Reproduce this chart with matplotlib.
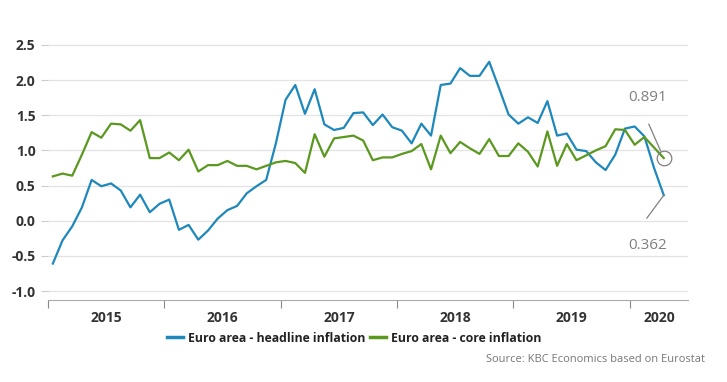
import numpy as np
import matplotlib.pyplot as plt

plt.rcParams['font.family'] = ['Open Sans', 'DejaVu Sans']

# monthly data, Jan 2015 - Apr 2020
headline = [-0.61, -0.28, -0.08, 0.19, 0.58, 0.49, 0.53, 0.43, 0.19, 0.37, 0.12, 0.24,
            0.30, -0.13, -0.06, -0.27, -0.14, 0.03, 0.15, 0.21, 0.39, 0.49, 0.58, 1.10,
            1.72, 1.93, 1.52, 1.87, 1.37, 1.29, 1.32, 1.53, 1.54, 1.36, 1.51, 1.33,
            1.28, 1.10, 1.38, 1.21, 1.93, 1.95, 2.17, 2.06, 2.06, 2.26, 1.89, 1.51,
            1.38, 1.47, 1.39, 1.70, 1.21, 1.24, 1.01, 0.99, 0.83, 0.72, 0.94, 1.31,
            1.34, 1.20, 0.75, 0.362]
core = [0.63, 0.67, 0.64, 0.94, 1.26, 1.18, 1.38, 1.37, 1.28, 1.43, 0.89, 0.89,
        0.97, 0.86, 1.01, 0.70, 0.79, 0.79, 0.85, 0.78, 0.78, 0.73, 0.78, 0.83,
        0.85, 0.82, 0.68, 1.23, 0.91, 1.17, 1.19, 1.21, 1.14, 0.86, 0.90, 0.90,
        0.95, 0.99, 1.09, 0.73, 1.21, 0.96, 1.12, 1.03, 0.95, 1.16, 0.92, 0.92,
        1.10, 0.98, 0.77, 1.27, 0.78, 1.09, 0.86, 0.93, 1.00, 1.06, 1.30, 1.29,
        1.08, 1.19, 1.04, 0.891]
years = ["2015", "2016", "2017", "2018", "2019", "2020"]
yticks = [-1.0, -0.5, 0.0, 0.5, 1.0, 1.5, 2.0, 2.5]

blue = "#1f88bb"
green = "#5b981f"
dark = "#333333"

x = np.arange(len(headline)) + 0.5

fig = plt.figure(figsize=(7.27, 3.82), dpi=100)
ax = fig.add_axes([48/727, 1-300/382, 640/727, 258.6/382])

ax.plot(x, headline, color=blue, lw=1.6, label="Euro area - headline inflation")
ax.plot(x, core, color=green, lw=1.6, label="Euro area - core inflation")

ax.set_xlim(0, 66)
ax.set_ylim(-1.128, 2.55)
ax.set_yticks(yticks)
ax.set_yticklabels(["%.1f" % v for v in yticks], fontweight="bold", color=dark, fontsize=10)
ax.grid(axis="y", color="#e3e3e3", lw=0.9)
ax.tick_params(axis="y", length=5, color="#cccccc", pad=4)

ax.set_xticks(np.arange(0, 61, 12))
ax.set_xticklabels([])
ax.set_xticks([6, 18, 30, 42, 54, 63], minor=True)
ax.set_xticklabels(years, minor=True, fontweight="bold", color=dark, fontsize=10)
ax.tick_params(axis="x", which="major", length=6, color="#888888", direction="out")
ax.tick_params(axis="x", which="minor", length=0, pad=8)

for s in ["top", "right", "left"]:
    ax.spines[s].set_visible(False)
ax.spines["bottom"].set_color("#aaaaaa")

# end-point annotations
gray = "#808080"
xe = x[-1]
ax.plot(xe, core[-1], "o", ms=10.5, mfc="none", mec=gray, mew=0.9)
ax.annotate("", xy=(xe, core[-1]), xytext=(-15, 34), textcoords="offset pixels",
            arrowprops=dict(arrowstyle="-", color=gray, lw=0.9, shrinkA=0, shrinkB=5.5))
ax.annotate("", xy=(xe, headline[-1]), xytext=(-17, -23), textcoords="offset pixels",
            arrowprops=dict(arrowstyle="-", color=gray, lw=0.9, shrinkA=0, shrinkB=0))
ax.annotate("0.891", xy=(xe, core[-1]), xytext=(-16, 61), textcoords="offset pixels",
            ha="center", va="center", fontsize=11, color=gray)
ax.annotate("0.362", xy=(xe, headline[-1]), xytext=(-16, -50), textcoords="offset pixels",
            ha="center", va="center", fontsize=11, color=gray)

leg = fig.legend(loc="center", bbox_to_anchor=(354/727, 1-338/382), ncol=2, frameon=False,
                 handlelength=1.3, handletextpad=0.4, columnspacing=0.4,
                 prop={"weight": "bold", "size": 8.8})
for t in leg.get_texts():
    t.set_color("#222222")
for h in leg.get_lines():
    h.set_linewidth(2.5)

fig.text(705/727, 1-360/382, "Source: KBC Economics based on Eurostat", ha="right", va="center",
         fontsize=8, color="#777777")

fig.savefig("out.png", dpi=100)
